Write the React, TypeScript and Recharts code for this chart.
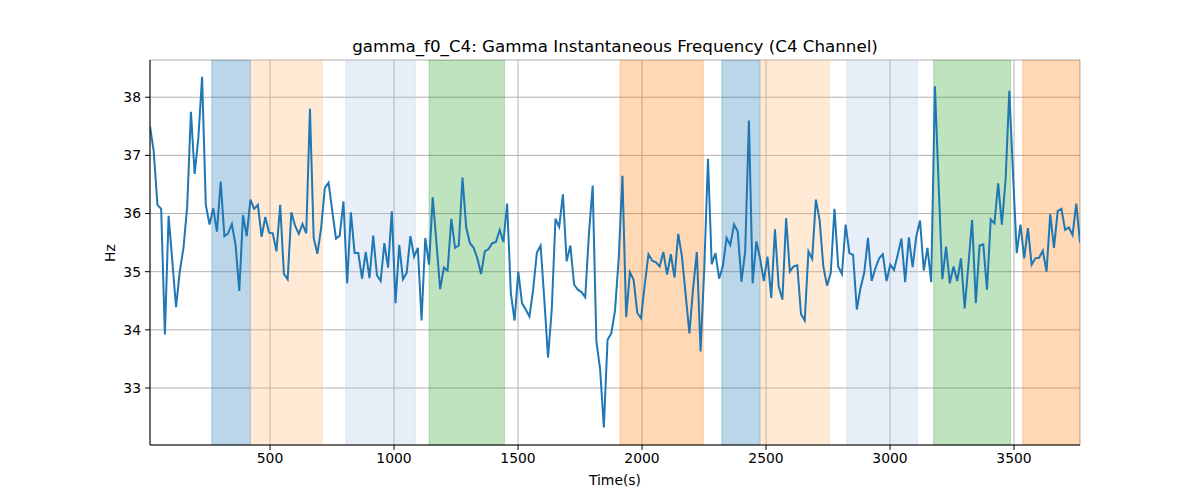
import { ComposedChart, Line, XAxis, YAxis, CartesianGrid, ReferenceArea } from 'recharts';

// sampling grid of the recording (seconds)
const T0 = 16;
const DT = 15;

const gammaFreq = [
  37.5, 37.07, 36.15, 36.08, 33.92, 35.96, 35.18, 34.39, 35.0, 35.41,
  36.12, 37.75, 36.68, 37.3, 38.35, 36.15, 35.81, 36.09, 35.69, 36.55,
  35.61, 35.66, 35.82, 35.46, 34.67, 35.97, 35.61, 36.24, 36.08, 36.15,
  35.6, 35.94, 35.67, 35.66, 35.35, 36.15, 34.96, 34.87, 36.02, 35.79,
  35.65, 35.82, 35.66, 37.8, 35.58, 35.31, 35.75, 36.44, 36.53, 36.04,
  35.57, 35.62, 36.21, 34.8, 36.02, 35.32, 35.32, 34.88, 35.34, 34.89,
  35.62, 34.94, 34.84, 35.49, 35.07, 36.04, 34.46, 35.46, 34.87, 34.98,
  35.61, 35.26, 35.41, 34.16, 35.58, 35.12, 36.28, 35.5, 34.7, 35.07,
  35.02, 35.91, 35.41, 35.45, 36.62, 35.76, 35.49, 35.41, 35.23, 34.96,
  35.35, 35.39, 35.49, 35.51, 35.72, 35.51, 36.17, 34.63, 34.16, 35.0,
  34.46, 34.35, 34.23, 34.69, 35.33, 35.45, 34.52, 33.52, 34.35, 35.91,
  35.77, 36.33, 35.18, 35.45, 34.78, 34.69, 34.65, 34.56, 35.66, 36.48,
  33.8, 33.32, 32.32, 33.83, 33.94, 34.33, 35.23, 36.65, 34.22, 34.99,
  34.86, 34.29, 34.2, 34.78, 35.3, 35.19, 35.16, 35.09, 35.34, 34.95,
  35.3, 34.9, 35.65, 35.26, 34.6, 33.94, 34.72, 35.34, 33.63, 35.06,
  36.94, 35.13, 35.32, 34.88, 35.1, 35.58, 35.46, 35.81, 35.69, 34.83,
  35.35, 37.6, 34.8, 35.52, 35.23, 34.84, 35.26, 34.55, 35.73, 34.75,
  34.52, 35.92, 35.0, 35.09, 35.11, 34.27, 34.16, 35.35, 35.22, 36.24,
  35.89, 35.09, 34.76, 34.98, 36.08, 35.09, 34.96, 35.81, 35.32, 35.29,
  34.35, 34.72, 34.98, 35.58, 34.84, 35.06, 35.23, 35.3, 34.84, 35.12,
  35.03, 35.29, 35.57, 34.82, 35.59, 35.08, 35.61, 35.88, 35.02, 35.41,
  34.82, 38.19, 36.5, 34.87, 35.43, 34.8, 35.09, 34.84, 35.23, 34.37,
  35.12, 35.89, 34.46, 35.45, 35.47, 34.69, 35.9, 35.83, 36.52, 35.81,
  36.58, 38.11, 36.67, 35.32, 35.81, 35.23, 35.75, 35.12, 35.23, 35.24,
  35.36, 35.0, 35.99, 35.41, 36.04, 36.08, 35.72, 35.76, 35.63, 36.17,
  35.5,
];

// shaded state intervals
const bandStart = [265, 421, 805, 1141, 1911, 2322, 2476, 2826, 3176, 3535];
const bandEnd = [421, 711, 1086, 1445, 2247, 2476, 2755, 3111, 3486, 3766];
const bandKind = ['blue', 'lightOrange', 'lightBlue', 'green', 'orange', 'blue', 'lightOrange', 'lightBlue', 'green', 'orange'];

const xTicks = [500, 1000, 1500, 2000, 2500, 3000, 3500];
const yTicks = [33, 34, 35, 36, 37, 38];

const BAND_FILL: Record<string, string> = {
  blue: '#1f77b4',
  lightOrange: '#ffbb78',
  lightBlue: '#aec7e8',
  green: '#2ca02c',
  orange: '#ff7f0e',
};

const data = gammaFreq.map((hz, i) => ({ time: T0 + i * DT, hz }));

const FONT = '"DejaVu Sans", sans-serif';
const tickStyle = { fill: '#000', fontSize: 13.9, fontFamily: FONT };

export default function App() {
  return (
    <div style={{ position: 'relative', width: 1200, height: 500, fontFamily: FONT, background: '#fff' }}>
      <style>{'body{margin:0}'}</style>
      <div style={{ position: 'absolute', left: 150, width: 930, top: 36, lineHeight: '20px', fontSize: 16.7, textAlign: 'center', color: '#000' }}>
        gamma_f0_C4: Gamma Instantaneous Frequency (C4 Channel)
      </div>
      <ComposedChart width={1200} height={500} data={data} margin={{ top: 60, right: 120, bottom: 25, left: 100 }}>
        <CartesianGrid stroke="#b0b0b0" strokeWidth={1} horizontalPoints={undefined} />
        {bandStart.map((s, i) => (
          <ReferenceArea
            key={i}
            x1={s}
            x2={bandEnd[i]}
            fill={BAND_FILL[bandKind[i]]}
            fillOpacity={0.3}
            stroke={BAND_FILL[bandKind[i]]}
            strokeOpacity={0.3}
            ifOverflow="hidden"
          />
        ))}
        <XAxis
          dataKey="time"
          type="number"
          domain={[16, 3766]}
          ticks={xTicks}
          allowDataOverflow
          height={30}
          stroke="#000"
          tickSize={5}
          tickMargin={3}
          tick={tickStyle}
        />
        <XAxis xAxisId="top" orientation="top" dataKey="time" type="number" domain={[16, 3766]} height={0} tick={false} tickLine={false} stroke="#000" />
        <YAxis
          type="number"
          domain={[32.02, 38.64]}
          ticks={yTicks}
          allowDataOverflow
          width={50}
          stroke="#000"
          tickSize={5}
          tickMargin={4}
          tick={tickStyle}
        />
        <YAxis yAxisId="right" orientation="right" type="number" domain={[32.02, 38.64]} width={0} tick={false} tickLine={false} stroke="#000" />
        <Line type="linear" dataKey="hz" stroke="#1f77b4" strokeWidth={2} dot={false} isAnimationActive={false} />
      </ComposedChart>
      <div style={{ position: 'absolute', left: 0, width: 1230, top: 472, lineHeight: '16px', fontSize: 13.9, textAlign: 'center', color: '#000' }}>
        Time(s)
      </div>
      <div style={{ position: 'absolute', left: 110, top: 253, fontSize: 13.9, lineHeight: '16px', color: '#000', transform: 'translate(-50%, -50%) rotate(-90deg)' }}>
        Hz
      </div>
    </div>
  );
}
